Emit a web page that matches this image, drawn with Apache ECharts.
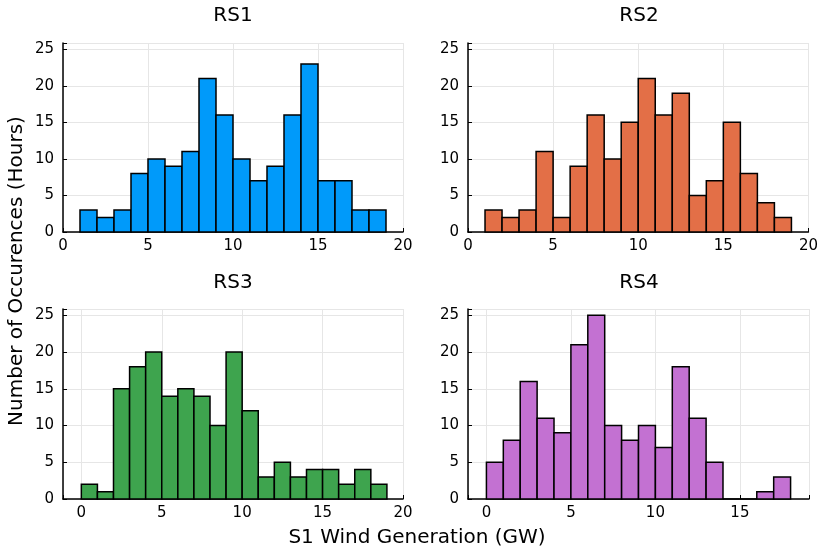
<!DOCTYPE html>
<html>
<head>
<meta charset="utf-8">
<script src="https://cdn.jsdelivr.net/npm/echarts@6/dist/echarts.min.js"></script>
<style>
  html, body { margin: 0; padding: 0; background: #fff; }
  #chart { width: 821px; height: 552px; }
</style>
</head>
<body>
<div id="chart"></div>
<script>
// bin edges start at these values, each bin is 1 GW wide
const rs1Start = 1
const rs1Counts = [3, 2, 3, 8, 10, 9, 11, 21, 16, 10, 7, 9, 16, 23, 7, 7, 3, 3]
const rs2Start = 1
const rs2Counts = [3, 2, 3, 11, 2, 9, 16, 10, 15, 21, 16, 19, 5, 7, 15, 8, 4, 2]
const rs3Start = 0
const rs3Counts = [2, 1, 15, 18, 20, 14, 15, 14, 10, 20, 12, 3, 5, 3, 4, 4, 2, 4, 2]
const rs4Start = 0
const rs4Counts = [5, 8, 16, 11, 9, 21, 25, 10, 8, 10, 7, 18, 11, 5, 0, 0, 1, 3]

const titles = ['RS1', 'RS2', 'RS3', 'RS4']
const colors = ['#009AFA', '#E36F47', '#3EA44E', '#C371D2']
const xRanges = [[0, 20], [0, 20], [-1.14, 20], [-1.09, 19.09]]
const yMax = 25.86

const chart = echarts.init(document.getElementById('chart'))

const grids = [
  { left: 63, top: 43, width: 340, height: 189 },
  { left: 468, top: 43, width: 341, height: 189 },
  { left: 63, top: 309, width: 340, height: 190 },
  { left: 468, top: 309, width: 341, height: 190 }
]

const toBins = (start, counts) => counts.map((c, i) => [start + i, start + i + 1, c])
const binData = [
  toBins(rs1Start, rs1Counts),
  toBins(rs2Start, rs2Counts),
  toBins(rs3Start, rs3Counts),
  toBins(rs4Start, rs4Counts)
]

const labelStyle = { color: '#000', fontSize: 15, fontFamily: 'DejaVu Sans' }
const gridLine = { show: true, lineStyle: { color: '#e6e6e6', width: 1 } }
const axisLine = { show: true, onZero: false, lineStyle: { color: '#000', width: 1.5 } }

const xAxis = xRanges.map((r, i) => ({
  type: 'value',
  gridIndex: i,
  min: r[0],
  max: r[1],
  splitNumber: 5,
  axisLine: axisLine,
  axisTick: { show: true, inside: true, length: 4, lineStyle: { color: '#000' } },
  axisLabel: Object.assign({ margin: 7, showMinLabel: true,
    formatter: v => (Math.abs(v % 5) < 1e-6 ? String(v) : '') }, labelStyle),
  splitLine: gridLine
}))

const yAxis = grids.map((g, i) => ({
  type: 'value',
  gridIndex: i,
  min: 0,
  max: yMax,
  splitNumber: 5,
  axisLine: axisLine,
  axisTick: { show: true, inside: true, length: 4, lineStyle: { color: '#000' } },
  axisLabel: Object.assign({ margin: 9,
    formatter: v => (Math.abs(v % 5) < 1e-6 ? String(v) : '') }, labelStyle),
  splitLine: gridLine
}))

const makeRender = color => (params, api) => {
  const p0 = api.coord([api.value(0), api.value(2)])
  const p1 = api.coord([api.value(1), 0])
  return {
    type: 'rect',
    shape: { x: p0[0], y: p0[1], width: p1[0] - p0[0], height: p1[1] - p0[1] },
    style: { fill: color, stroke: '#000', lineWidth: 1.5 }
  }
}

const series = binData.map((d, i) => ({
  type: 'custom',
  xAxisIndex: i,
  yAxisIndex: i,
  data: d,
  encode: { x: [0, 1], y: 2 },
  renderItem: makeRender(colors[i])
}))

const titleText = (txt, x, y) => ({
  type: 'text', x: x, y: y,
  style: { text: txt, fill: '#000', font: '20px "DejaVu Sans"', textAlign: 'center', textVerticalAlign: 'middle' }
})

chart.setOption({
  animation: false,
  grid: grids,
  xAxis: xAxis,
  yAxis: yAxis,
  series: series,
  graphic: [
    titleText(titles[0], 233, 16),
    titleText(titles[1], 639, 16),
    titleText(titles[2], 233, 283),
    titleText(titles[3], 639, 283),
    titleText('S1 Wind Generation (GW)', 417, 538),
    {
      type: 'text', x: 17, y: 271, rotation: Math.PI / 2,
      style: { text: 'Number of Occurences (Hours)', fill: '#000', font: '20px "DejaVu Sans"', textAlign: 'center', textVerticalAlign: 'middle' }
    }
  ]
})
</script>
</body>
</html>
